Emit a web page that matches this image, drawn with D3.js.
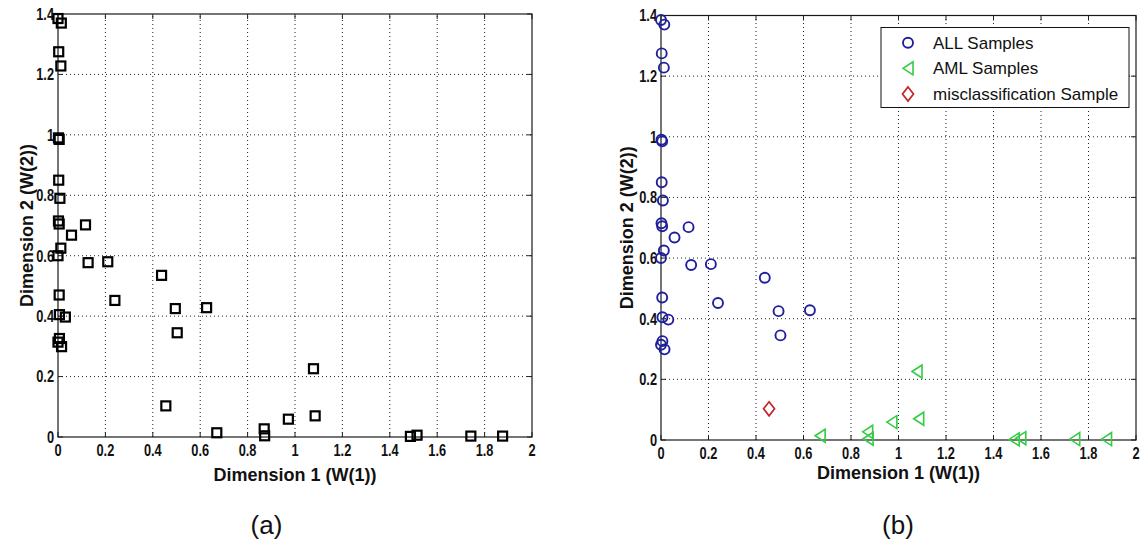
<!DOCTYPE html>
<html>
<head>
<meta charset="utf-8">
<script src="https://cdn.jsdelivr.net/npm/d3@7"></script>
<style>
  html, body { margin: 0; padding: 0; background: #fff; }
  svg { display: block; }
</style>
</head>
<body>
<svg id="fig" width="1140" height="544"></svg>
<script>
// Projection of samples onto the two NMF dimensions W(1), W(2)
const allW1 = [0.000, 0.014, 0.003, 0.012, 0.002, 0.005, 0.003, 0.008, 0.002, 0.005,
               0.057, 0.116, 0.012, 0.000, 0.127, 0.210, 0.437, 0.005, 0.240, 0.495,
               0.627, 0.006, 0.031, 0.503, 0.006, 0.000, 0.015];
const allW2 = [1.385, 1.370, 1.275, 1.228, 0.990, 0.985, 0.850, 0.790, 0.715, 0.705,
               0.668, 0.702, 0.625, 0.600, 0.577, 0.580, 0.535, 0.470, 0.452, 0.425,
               0.428, 0.405, 0.397, 0.345, 0.326, 0.314, 0.299];
const amlW1 = [0.670, 0.870, 0.872, 0.972, 1.078, 1.085, 1.487, 1.515, 1.742, 1.876];
const amlW2 = [0.014, 0.027, 0.004, 0.059, 0.226, 0.070, 0.002, 0.006, 0.003, 0.003];
const misW1 = [0.455];
const misW2 = [0.103];

const xTicks = [0, 0.2, 0.4, 0.6, 0.8, 1, 1.2, 1.4, 1.6, 1.8, 2];
const yTicks = [0, 0.2, 0.4, 0.6, 0.8, 1, 1.2, 1.4];
const legendLabels = ["ALL Samples", "AML Samples", "misclassification Sample"];
const xTitle = "Dimension 1 (W(1))";
const yTitle = "Dimension 2 (W(2))";
const captions = ["(a)", "(b)"];

const svg = d3.select("#fig");
const font = "'Liberation Sans', Arial, sans-serif";

const colAll = "#1f1f9c", colAml = "#33cc44", colMis = "#c42428";

function pts(xs, ys) { return xs.map((x, i) => ({ x, y: ys[i] })); }
const allPts = pts(allW1, allW2), amlPts = pts(amlW1, amlW2), misPts = pts(misW1, misW2);

const triPath = "M-5,0L5,-6.5L5,6.5Z";
const diaPath = "M0,-7L5.5,0L0,7L-5.5,0Z";

// narrow bold tick label: bold face squeezed horizontally
function tickLabel(parent, x, y, txt, anchor) {
  parent.append("g").attr("transform", `translate(${x},${y}) scale(0.8,1)`)
    .append("text")
    .attr("text-anchor", anchor)
    .style("font-family", font).style("font-weight", "bold").style("font-size", "16px")
    .attr("fill", "#111").text(txt);
}

function panel(cfg) {
  const x = d3.scaleLinear().domain([0, 2]).range([cfg.x0, cfg.x1]);
  const y = d3.scaleLinear().domain([0, 1.4]).range([cfg.y0, cfg.y1]);
  const g = svg.append("g");

  // dotted grid
  g.append("g").selectAll("line").data(xTicks.slice(1, -1)).join("line")
    .attr("x1", d => x(d)).attr("x2", d => x(d))
    .attr("y1", cfg.y0).attr("y2", cfg.y1)
    .attr("stroke", "#222").attr("stroke-width", 1).attr("stroke-dasharray", "1,3");
  g.append("g").selectAll("line").data(yTicks.slice(1, -1)).join("line")
    .attr("y1", d => y(d)).attr("y2", d => y(d))
    .attr("x1", cfg.x0).attr("x2", cfg.x1)
    .attr("stroke", "#222").attr("stroke-width", 1).attr("stroke-dasharray", "1,3");

  // inward ticks on all four sides
  const tl = 5;
  const tk = g.append("g").attr("stroke", "#222").attr("stroke-width", 1);
  xTicks.forEach(t => {
    tk.append("line").attr("x1", x(t)).attr("x2", x(t)).attr("y1", cfg.y0).attr("y2", cfg.y0 - tl);
    tk.append("line").attr("x1", x(t)).attr("x2", x(t)).attr("y1", cfg.y1).attr("y2", cfg.y1 + tl);
  });
  yTicks.forEach(t => {
    tk.append("line").attr("y1", y(t)).attr("y2", y(t)).attr("x1", cfg.x0).attr("x2", cfg.x0 + tl);
    tk.append("line").attr("y1", y(t)).attr("y2", y(t)).attr("x1", cfg.x1).attr("x2", cfg.x1 - tl);
  });

  // box
  g.append("rect").attr("x", cfg.x0).attr("y", cfg.y1)
    .attr("width", cfg.x1 - cfg.x0).attr("height", cfg.y0 - cfg.y1)
    .attr("fill", "none").attr("stroke", "#1a1a1a").attr("stroke-width", 1.2);

  // tick labels
  const fmt = d3.format("~g");
  xTicks.forEach(t => tickLabel(g, x(t), cfg.y0 + 18.5, fmt(t), "middle"));
  yTicks.forEach(t => tickLabel(g, cfg.x0 - 4, y(t) + 5.8, fmt(t), "end"));

  // axis titles
  g.append("text").attr("x", (cfg.x0 + cfg.x1) / 2).attr("y", cfg.xTitleY)
    .attr("text-anchor", "middle")
    .style("font-family", font).style("font-weight", "bold").style("font-size", "18px")
    .attr("fill", "#111").text(xTitle);
  g.append("text")
    .attr("transform", `translate(${cfg.yTitleX},${(cfg.y0 + cfg.y1) / 2}) rotate(-90)`)
    .attr("text-anchor", "middle")
    .style("font-family", font).style("font-weight", "bold").style("font-size", "18px")
    .attr("fill", "#111").text(yTitle);

  // caption
  svg.append("text").attr("x", cfg.capX).attr("y", 534)
    .attr("text-anchor", "middle")
    .style("font-family", font).style("font-size", "26px")
    .attr("fill", "#111").text(cfg.caption);

  return { g, x, y };
}

// (a) all samples with square markers
const A = panel({ x0: 58, x1: 532, y0: 437, y1: 14, xTitleY: 481, yTitleX: 32.5, capX: 266.5, caption: captions[0] });
const sq = 9;
A.g.append("g").selectAll("rect").data(allPts.concat(amlPts, misPts)).join("rect")
  .attr("x", d => A.x(d.x) - sq / 2).attr("y", d => A.y(d.y) - sq / 2)
  .attr("width", sq).attr("height", sq)
  .attr("fill", "none").attr("stroke", "#000").attr("stroke-width", 2.2);

// (b) samples coloured by class
const B = panel({ x0: 661, x1: 1136, y0: 440, y1: 15.5, xTitleY: 479, yTitleX: 633, capX: 898, caption: captions[1] });
B.g.append("g").selectAll("circle").data(allPts).join("circle")
  .attr("cx", d => B.x(d.x)).attr("cy", d => B.y(d.y)).attr("r", 5)
  .attr("fill", "none").attr("stroke", colAll).attr("stroke-width", 1.9);
B.g.append("g").selectAll("path").data(amlPts).join("path")
  .attr("transform", d => `translate(${B.x(d.x)},${B.y(d.y)})`)
  .attr("d", triPath)
  .attr("fill", "none").attr("stroke", colAml).attr("stroke-width", 1.6);
B.g.append("g").selectAll("path").data(misPts).join("path")
  .attr("transform", d => `translate(${B.x(d.x)},${B.y(d.y)})`)
  .attr("d", diaPath)
  .attr("fill", "none").attr("stroke", colMis).attr("stroke-width", 1.7);

// legend
const lg = svg.append("g");
lg.append("rect").attr("x", 881).attr("y", 27.5).attr("width", 248).attr("height", 80)
  .attr("fill", "#fff").attr("stroke", "#111").attr("stroke-width", 1);
const rowY = [42.7, 68.3, 94];
const mx = 908;
lg.append("circle").attr("cx", mx).attr("cy", rowY[0]).attr("r", 5)
  .attr("fill", "none").attr("stroke", colAll).attr("stroke-width", 1.9);
lg.append("path").attr("transform", `translate(${mx},${rowY[1]})`).attr("d", triPath)
  .attr("fill", "none").attr("stroke", colAml).attr("stroke-width", 1.6);
lg.append("path").attr("transform", `translate(${mx},${rowY[2]})`).attr("d", diaPath)
  .attr("fill", "none").attr("stroke", colMis).attr("stroke-width", 1.7);
lg.selectAll("text.lab").data(legendLabels).join("text").attr("class", "lab")
  .attr("x", 933).attr("y", (d, i) => rowY[i] + 6)
  .style("font-family", font).style("font-size", "17px")
  .attr("fill", "#111").text(d => d);
</script>
</body>
</html>
